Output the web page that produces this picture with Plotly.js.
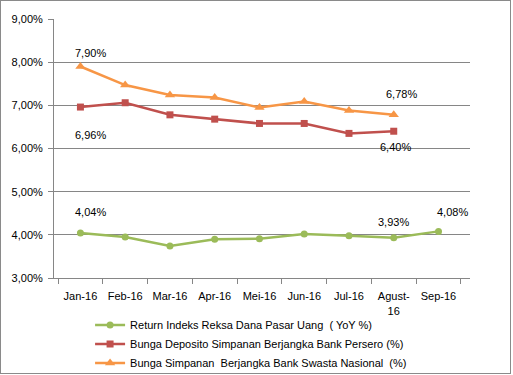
<!DOCTYPE html>
<html>
<head>
<meta charset="utf-8">
<script src="https://cdn.plot.ly/plotly-3.0.1.min.js"></script>
<style>
  html, body { margin: 0; padding: 0; background: #fff; }
  #chart { width: 509px; height: 372px; border: 1px solid #8a8a8a; }
</style>
</head>
<body>
<div id="chart"></div>
<script>
const categories = ["Jan-16", "Feb-16", "Mar-16", "Apr-16", "Mei-16", "Jun-16", "Jul-16", "Agust-<br>16", "Sep-16"];
const returnReksaDana = [4.04, 3.95, 3.74, 3.90, 3.91, 4.02, 3.98, 3.93, 4.08];
const depositoPersero = [6.96, 7.06, 6.78, 6.68, 6.58, 6.58, 6.35, 6.40, null];
const simpananSwasta = [7.90, 7.47, 7.24, 7.18, 6.95, 7.09, 6.88, 6.78, null];
const seriesNames = [
  "Return Indeks Reksa Dana Pasar Uang  ( YoY %)",
  "Bunga Deposito Simpanan Berjangka Bank Persero (%)",
  "Bunga Simpanan  Berjangka Bank Swasta Nasional  (%)"
];

const fmt = v => v.toFixed(2).replace('.', ',') + '%';
const FONT = { family: "Liberation Sans, Arial, sans-serif", size: 11, color: "#000" };

const traces = [
  { x: categories, y: returnReksaDana, name: seriesNames[0], mode: "lines+markers",
    line: { color: "#9BBB59", width: 2.5 }, marker: { symbol: "circle", size: 7, color: "#9BBB59" } },
  { x: categories, y: depositoPersero, name: seriesNames[1], mode: "lines+markers",
    line: { color: "#C0504D", width: 2.5 }, marker: { symbol: "square", size: 7, color: "#C0504D" } },
  { x: categories, y: simpananSwasta, name: seriesNames[2], mode: "lines+markers",
    line: { color: "#F79646", width: 2.5 }, marker: { symbol: "triangle-up", size: 9, color: "#F79646" } }
];

// labelled points: [series array, index, xshift, yshift]
const labelSpecs = [
  [simpananSwasta, 0, 10, 13], [simpananSwasta, 7, 8, 21],
  [depositoPersero, 0, 10, -28], [depositoPersero, 7, 2, -16],
  [returnReksaDana, 0, 10, 21], [returnReksaDana, 7, 0, 16], [returnReksaDana, 8, 14, 19]
];
const annotations = labelSpecs.map(([arr, i, xs, ys]) => ({
  x: categories[i], y: arr[i], xref: "x", yref: "y", text: fmt(arr[i]),
  showarrow: false, xshift: xs, yshift: ys, font: FONT
}));

const layout = {
  width: 509, height: 372,
  margin: { l: 53, r: 40, t: 18, b: 95, autoexpand: false },
  paper_bgcolor: "#fff", plot_bgcolor: "#fff",
  separators: ",.",
  font: FONT,
  showlegend: true,
  legend: { orientation: "v", xref: "container", yref: "container", x: 0.175, xanchor: "left",
            y: 0.168, yanchor: "top", font: FONT, bgcolor: "rgba(0,0,0,0)", tracegroupgap: 0 },
  xaxis: {
    type: "category", tickson: "boundaries", ticks: "outside", ticklen: 5, tickcolor: "#868686",
    showline: true, linecolor: "#868686", linewidth: 1, showgrid: false,
    tickfont: FONT, tickangle: 0, ticklabelstandoff: 8
  },
  yaxis: {
    range: [3, 9], dtick: 1, tickformat: ".2f", ticksuffix: "%",
    ticks: "outside", ticklen: 5, tickcolor: "#868686",
    showline: true, linecolor: "#868686", linewidth: 1,
    showgrid: true, gridcolor: "#868686", gridwidth: 1, zeroline: false,
    tickfont: FONT, ticklabelstandoff: 3
  },
  annotations: annotations
};

Plotly.newPlot("chart", traces, layout, { displayModeBar: false, staticPlot: true });
</script>
</body>
</html>
